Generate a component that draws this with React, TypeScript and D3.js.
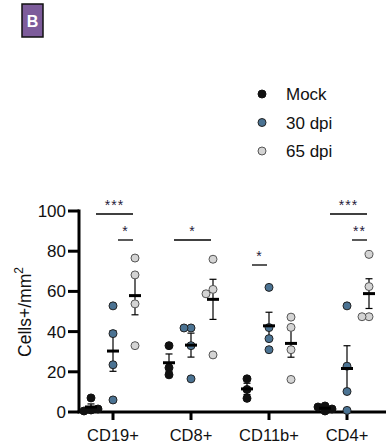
import React from 'react';
import * as d3 from 'd3';

const categories = ['CD19+', 'CD8+', 'CD11b+', 'CD4+'];
const groups = ['Mock', '30 dpi', '65 dpi'];
const mockValues = [[7, 1, 0.5, 1.5], [33, 22, 18.5], [16.5, 11.2, 6.8], [3, 2.5, 1.5, 0.5]];
const dpi30Values = [[52.8, 39, 23.5, 6], [41.8, 41.8, 33, 16.5], [62, 42, 36.5, 31], [52.8, 22.8, 10.2, 0.8]];
const dpi65Values = [[76.6, 68.2, 53.8, 33], [76, 61, 58.8, 28.4], [47.2, 42.1, 31, 16.2], [78.4, 62.4, 47.4, 47.4]];
const yTicks = [0, 20, 40, 60, 80, 100];
// significance brackets: category, from group, to group, label
const sigCats = ['CD19+', 'CD19+', 'CD8+', 'CD11b+', 'CD4+', 'CD4+'];
const sigFrom = [0, 1, 0, 0, 0, 1];
const sigTo = [2, 2, 2, 1, 2, 2];
const sigLevel = [0, 1, 1, 2, 0, 1];
const sigLabels = ['***', '*', '*', '*', '***', '**'];

const fills = ['#111111', '#4b7393', '#d4d4d4'];
const strokes = ['#111111', '#222222', '#555555'];
const font = 'Arial, "Liberation Sans", sans-serif';

const W = 388;
const H = 444;
const R = 4;

const y = d3.scaleLinear().domain([0, 100]).range([412, 211]);
const x = d3.scalePoint<string>().domain(categories).range([113, 347]);
const gx = d3.scalePoint<string>().domain(groups).range([-22, 22]);

// simple swarm so overlapping dots sit side by side
function swarm(vals: number[]) {
  const placed: { v: number; dx: number }[] = [];
  vals.forEach(v => {
    const cands = [0, -3.5, 3.5, -7, 7, -10.5, 10.5];
    let dx = 0;
    for (const c of cands) {
      const ok = placed.every(p => Math.hypot(p.dx - c, y(p.v) - y(v)) >= 2 * R - 2);
      if (ok) { dx = c; break; }
    }
    placed.push({ v, dx });
  });
  return placed;
}

export default function App() {
  const series = [mockValues, dpi30Values, dpi65Values];
  const sigY = [214, 240, 265];
  return (
    <svg width={W} height={H} style={{ position: 'absolute', left: 0, top: 0, background: '#fff' }} fontFamily={font}>
      {/* panel badge */}
      <rect x={22} y={4} width={21} height={33} fill="#7d5c9b" stroke="#111" strokeWidth={1.5} />
      <text x={32.5} y={27} textAnchor="middle" fill="#fff" fontWeight="bold" fontSize={16}>B</text>

      {/* legend */}
      {groups.map((g, i) => (
        <g key={g} transform={`translate(262,${94 + i * 28.5})`}>
          <circle r={R} fill={fills[i]} stroke={strokes[i]} strokeWidth={1} />
          <text x={24} y={6} fontSize={17} fill="#111">{g}</text>
        </g>
      ))}

      {/* y axis */}
      <line x1={79} x2={79} y1={y(100) - 1.5} y2={y(0)} stroke="#000" strokeWidth={3} />
      {yTicks.map(t => (
        <g key={t} transform={`translate(0,${y(t)})`}>
          <line x1={68} x2={79} stroke="#000" strokeWidth={3} />
          <text x={66} y={6} textAnchor="end" fontSize={17} fill="#111">{t}</text>
        </g>
      ))}
      <text transform={`translate(31,${312}) rotate(-90)`} textAnchor="middle" fontSize={17.5} fill="#111">
        Cells+/mm<tspan dy={-8} fontSize={12}>2</tspan>
      </text>

      {/* x axis */}
      <line x1={77.5} x2={386} y1={y(0)} y2={y(0)} stroke="#000" strokeWidth={3} />
      {categories.map(c => (
        <g key={c} transform={`translate(${x(c)},0)`}>
          <line y1={y(0)} y2={y(0) + 8} stroke="#000" strokeWidth={3} />
          <text y={441} textAnchor="middle" fontSize={16.5} fill="#111">{c}</text>
        </g>
      ))}

      {/* points, mean and SEM */}
      {categories.map((c, ci) =>
        series.map((s, si) => {
          const vals = s[ci];
          const cx = (x(c) as number) + (gx(groups[si]) as number);
          const m = d3.mean(vals) as number;
          const sem = (d3.deviation(vals) as number) / Math.sqrt(vals.length);
          return (
            <g key={`${c}-${si}`}>
              <line x1={cx} x2={cx} y1={y(m + sem)} y2={y(m - sem)} stroke="#000" strokeWidth={1.2} />
              <line x1={cx - 3.5} x2={cx + 3.5} y1={y(m + sem)} y2={y(m + sem)} stroke="#000" strokeWidth={1.2} />
              <line x1={cx - 3.5} x2={cx + 3.5} y1={y(m - sem)} y2={y(m - sem)} stroke="#000" strokeWidth={1.2} />
              {swarm(vals).map((p, k) => (
                <circle key={k} cx={cx + p.dx} cy={y(p.v)} r={R} fill={fills[si]} stroke={strokes[si]} strokeWidth={1} />
              ))}
              <line x1={cx - 6} x2={cx + 6} y1={y(m)} y2={y(m)} stroke="#000" strokeWidth={3} />
            </g>
          );
        })
      )}

      {/* significance */}
      {sigCats.map((c, i) => {
        const x1 = (x(c) as number) + (gx(groups[sigFrom[i]]) as number) + 5;
        const x2 = (x(c) as number) + (gx(groups[sigTo[i]]) as number) - 2;
        const yy = sigY[sigLevel[i]];
        return (
          <g key={i}>
            <line x1={x1} x2={x2} y1={yy} y2={yy} stroke="#000" strokeWidth={1.3} />
            <text x={(x1 + x2) / 2} y={yy - 4} textAnchor="middle" fontSize={14} letterSpacing={1} fill="#1f1a3a">{sigLabels[i]}</text>
          </g>
        );
      })}
    </svg>
  );
}
